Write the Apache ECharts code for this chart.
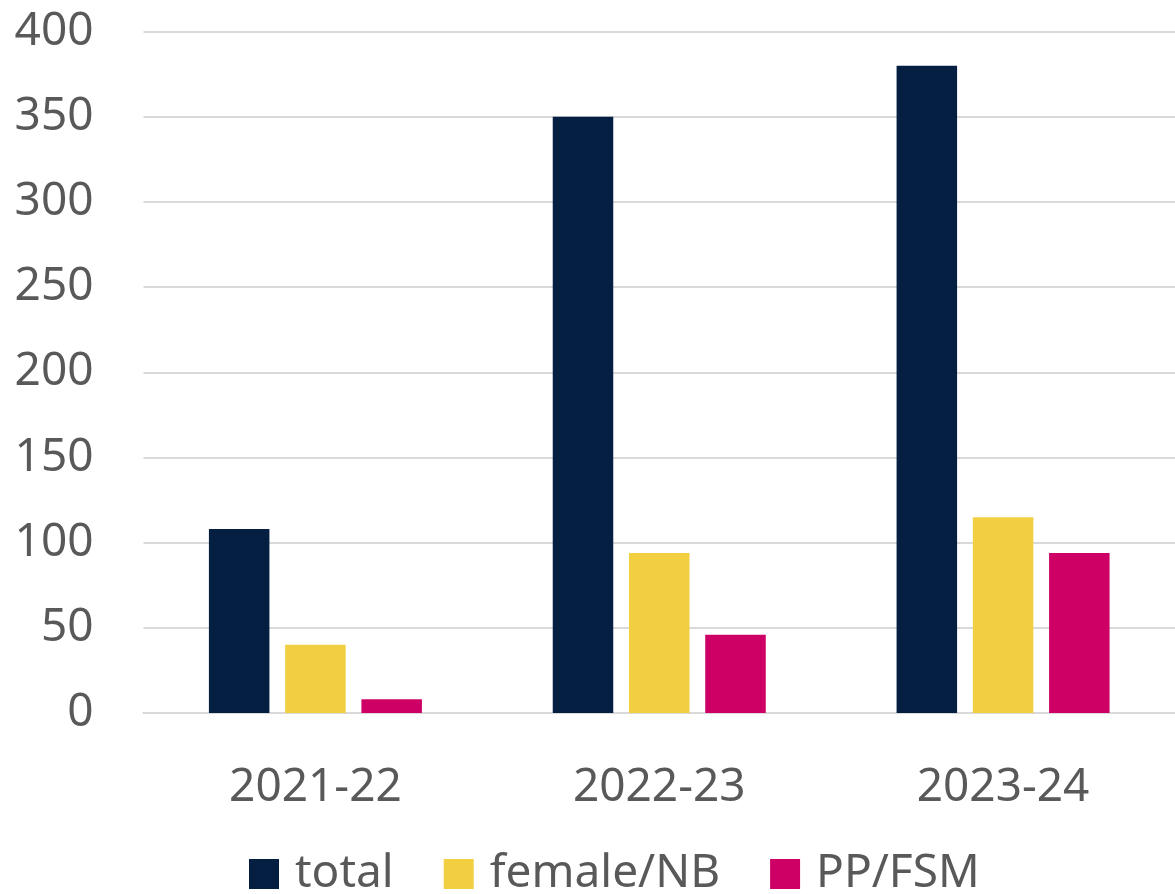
<!DOCTYPE html>
<html>
<head>
<meta charset="utf-8">
<script src="https://cdn.jsdelivr.net/npm/echarts@6/dist/echarts.min.js"></script>
<style>
  html, body { margin: 0; padding: 0; background: #fff; }
  #chart { width: 1175px; height: 894px; }
</style>
</head>
<body>
<div id="chart"></div>
<script>
// data
var years = ['2021-22', '2022-23', '2023-24']
var total = [108, 350, 380]
var femaleNB = [40, 94, 115]
var ppFsm = [8, 46, 94]
var yTicks = { min: 0, max: 400, interval: 50 }

var textColor = '#595959'
var font = 'Noto Sans'

var myChart = echarts.init(document.getElementById('chart'))
var option = {
  animation: false,
  color: ['#051F42', '#F2CF40', '#CE0066'],
  // plot runs a little past the right edge, as in the picture
  grid: { left: 143.5, width: 1041, top: 31.7, bottom: 181 },
  legend: {
    top: 846,
    left: 244,
    itemWidth: 30,
    itemHeight: 30,
    itemGap: 50,
    icon: 'rect',
    textStyle: { color: textColor, fontSize: 46, fontFamily: font, lineHeight: 46, padding: [0, 0, 0, 11] },
    data: ['total', 'female/NB', 'PP/FSM']
  },
  xAxis: {
    type: 'category',
    data: years,
    axisTick: { show: false },
    axisLine: { lineStyle: { color: '#d9d9d9', width: 2 } },
    axisLabel: { color: textColor, fontSize: 46, fontFamily: font, margin: 52 }
  },
  yAxis: {
    type: 'value',
    min: yTicks.min,
    max: yTicks.max,
    interval: yTicks.interval,
    axisLabel: { color: textColor, fontSize: 46, fontFamily: font, margin: 50 },
    splitLine: { lineStyle: { color: '#d9d9d9', width: 2 } }
  },
  series: [
    { name: 'total', type: 'bar', data: total, barWidth: '17.6%', barGap: '26%' },
    { name: 'female/NB', type: 'bar', data: femaleNB, barWidth: '17.6%', barGap: '26%' },
    { name: 'PP/FSM', type: 'bar', data: ppFsm, barWidth: '17.6%', barGap: '26%' }
  ]
}
myChart.setOption(option)
</script>
</body>
</html>
